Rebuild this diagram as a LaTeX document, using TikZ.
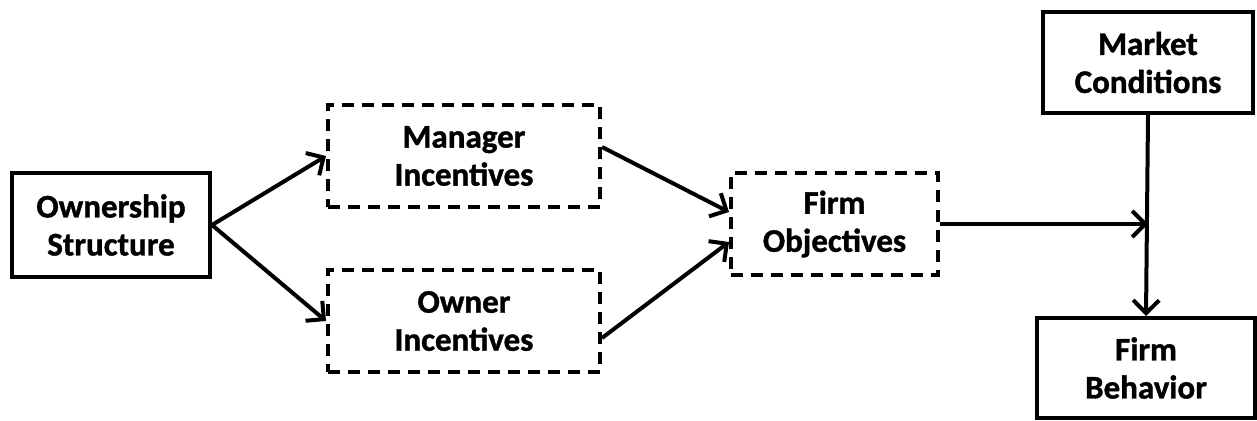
\documentclass[tikz,border=0pt]{standalone}
\usepackage{fontspec}
\setmainfont{Carlito}[BoldFeatures={FakeBold=1.2}]
\usetikzlibrary{arrows.meta,calc}
\tikzset{
  box/.style={draw, line width=4pt, align=center, inner sep=0pt,
    font=\bfseries\fontsize{33}{38}\selectfont},
  dbox/.style={box, dash pattern=on 12pt off 8pt},
  conn/.style={line width=4pt, -{Straight Barb[length=13pt,width=26pt,line width=4pt]}}
}
\begin{document}
\begin{tikzpicture}[x=1pt,y=-1pt]
\useasboundingbox (0,0) rectangle (1257,420);
\node[box, minimum width=198pt, minimum height=104pt] (own) at (111,225) {Ownership\\Structure};
\node[dbox, minimum width=272pt, minimum height=102pt] (mgr) at (464,156) {Manager\\Incentives};
\node[dbox, minimum width=272pt, minimum height=102pt] (owr) at (464,321) {Owner\\Incentives};
\node[dbox, minimum width=207pt, minimum height=102pt] (obj) at (834.5,224) {Firm\\Objectives};
\node[box, minimum width=210pt, minimum height=101pt] (mkt) at (1148,62.5) {Market\\Conditions};
\node[box, minimum width=218pt, minimum height=100pt] (beh) at (1146,368) {Firm\\Behavior};
\coordinate (j) at (mkt.south |- obj.east);
\draw[conn] (own.east) -- (mgr.west);
\draw[conn] (own.east) -- (owr.west);
\draw[conn] ([yshift=9pt]mgr.east) -- ([yshift=12pt]obj.west);
\draw[conn] ([yshift=-17pt]owr.east) -- ([yshift=-18pt]obj.west);
\draw[conn] (obj.east) -- (j);
\draw[conn] (mkt.south) -- (beh.north);
\end{tikzpicture}
\end{document}
